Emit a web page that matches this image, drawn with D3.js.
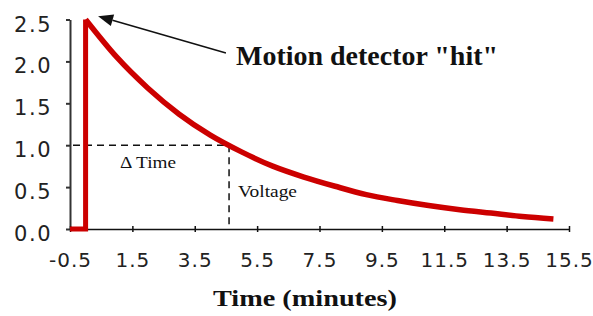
<!DOCTYPE html>
<html><head><meta charset="utf-8">
<script src="https://cdn.jsdelivr.net/npm/d3@7"></script>
<style>html,body{margin:0;padding:0;background:#fff;}svg{display:block;}</style>
</head><body>
<svg id="c" width="593" height="316"></svg>
<script>
// Data
const xTicks = [-0.5, 1.5, 3.5, 5.5, 7.5, 9.5, 11.5, 13.5, 15.5];
const yTicks = [0.0, 0.5, 1.0, 1.5, 2.0, 2.5];
const preHit = [[-0.5, 0], [0, 0], [0, 2.5]];
const decayTime = [0, 1, 2, 3, 4, 5, 6, 7, 8, 9, 10, 11, 12, 13, 14, 15];
const decayVolt = [2.50, 2.05, 1.68, 1.37, 1.12, 0.92, 0.75, 0.62, 0.51, 0.41, 0.34, 0.28, 0.23, 0.19, 0.15, 0.12];
const markTime = 4.6, markVolt = 1.0;
const arrowTip = [0.4, 2.54], arrowTail = [4.5, 2.1];
const xTitle = "Time (minutes)";
const hitLabel = "Motion detector \"hit\"";

const svg = d3.select("#c");
const x = d3.scaleLinear().domain([-0.5, 15.5]).range([70, 569]);
const y = d3.scaleLinear().domain([0, 2.5]).range([229, 19.5]);
const fmt = d => d.toFixed(1);

// Y axis
const ya = svg.append("g").attr("transform", `translate(${x(-0.5)},0)`)
  .call(d3.axisLeft(y).tickValues(yTicks).tickFormat(fmt).tickSize(4).tickSizeOuter(0).tickPadding(14));
ya.select(".domain").attr("stroke", "#333").attr("stroke-width", 2);
ya.selectAll(".tick line").attr("stroke", "#333").attr("stroke-width", 2);
ya.selectAll("text").attr("font-family", "DejaVu Sans").attr("font-size", 21)
  .attr("letter-spacing", 1.5).attr("fill", "#222").attr("dy", 11.5);

// X axis
const xa = svg.append("g").attr("transform", `translate(0,${y(0)})`)
  .call(d3.axisBottom(x).tickValues(xTicks).tickFormat(fmt).tickSize(3).tickSizeOuter(0).tickPadding(21));
xa.select(".domain").attr("stroke", "#111").attr("stroke-width", 1.5);
xa.selectAll(".tick line").attr("y1", -3).attr("y2", 3).attr("stroke", "#111").attr("stroke-width", 1.5);
xa.selectAll("text").attr("font-family", "DejaVu Sans").attr("font-size", 20)
  .attr("letter-spacing", 1).attr("fill", "#222");

// Dashed guide lines
svg.append("path")
  .attr("d", `M${x(-0.5)},${y(markVolt)}H${x(markTime)}V${y(0)}`)
  .attr("fill", "none").attr("stroke", "#111").attr("stroke-width", 1.5)
  .attr("stroke-dasharray", "7,5").attr("stroke-dashoffset", -3);

// Red curve
const lin = d3.line().x(d => x(d[0])).y(d => y(d[1]));
svg.append("path").attr("d", lin(preHit)).attr("fill", "none")
  .attr("stroke", "#cc0000").attr("stroke-width", 5).attr("stroke-linejoin", "miter");
const decay = decayTime.map((t, i) => [t, decayVolt[i]]);
svg.append("path").attr("d", d3.line().x(d => x(d[0])).y(d => y(d[1])).curve(d3.curveMonotoneX)(decay))
  .attr("fill", "none").attr("stroke", "#cc0000").attr("stroke-width", 5.5);

// Text helper: fixed size, stretched to the reference width
function label(txt, px, py, size, w, bold) {
  return svg.append("text").attr("x", px).attr("y", py)
    .attr("font-family", "Liberation Serif").attr("font-weight", bold ? "bold" : "normal")
    .attr("font-size", size).attr("fill", "#111")
    .attr("textLength", w).attr("lengthAdjust", "spacingAndGlyphs").text(txt);
}
label("\u0394 Time", 120, 168, 16, 56, false);
label("Voltage", 238, 197, 17, 59, false);
label(xTitle, 213, 306, 23, 184, true);
label(hitLabel, 236, 65, 27, 262, true);

// Arrow
const tx = x(arrowTip[0]), ty = y(arrowTip[1]);
const sx = x(arrowTail[0]), sy = y(arrowTail[1]);
const ang = Math.atan2(sy - ty, sx - tx);
const L = 15, W = 6;
const bx = tx + L * Math.cos(ang), by = ty + L * Math.sin(ang);
svg.append("line").attr("x1", sx).attr("y1", sy).attr("x2", bx).attr("y2", by)
  .attr("stroke", "#111").attr("stroke-width", 1.5);
svg.append("path")
  .attr("d", `M${tx},${ty}L${bx + W * Math.sin(ang)},${by - W * Math.cos(ang)}L${bx - W * Math.sin(ang)},${by + W * Math.cos(ang)}Z`)
  .attr("fill", "#111");
</script>
</body></html>
